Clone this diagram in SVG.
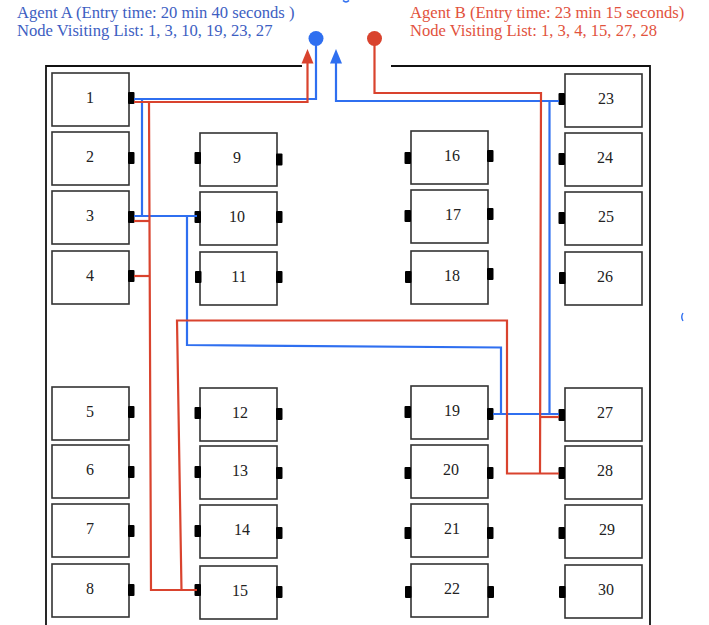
<svg xmlns="http://www.w3.org/2000/svg" width="709" height="625" viewBox="0 0 709 625">
  <style>
    .hdr { font-family: "Liberation Serif", "Times New Roman", serif; font-size: 16.6px; }
    .a { fill: #3d5ec2; }
    .b { fill: #e2523d; }
    .box { fill: #ffffff; stroke: #333333; stroke-width: 1.6; }
    .lbl { font-family: "Liberation Serif", "Times New Roman", serif; font-size: 16px; fill: #222222; text-anchor: middle; }
    .port { fill: #000000; }
    .wall { fill: none; stroke: #111111; stroke-width: 1.8; }
    .blue { fill: none; stroke: #2f6ff0; stroke-width: 2.2; }
    .red { fill: none; stroke: #d9432e; stroke-width: 2.2; }
  </style>
  <defs>
    <rect id="port" class="port" x="0" y="-6" width="6.5" height="12" rx="1"/>
  </defs>

  <rect width="709" height="625" fill="#ffffff"/>

  <!-- legend -->
  <text class="hdr a" x="17" y="18">Agent A (Entry time: 20 min 40 seconds )</text>
  <text class="hdr a" x="17" y="36">Node Visiting List: 1, 3, 10, 19, 23, 27</text>
  <text class="hdr b" x="410" y="18">Agent B (Entry time: 23 min 15 seconds)</text>
  <text class="hdr b" x="410" y="36">Node Visiting List: 1, 3, 4, 15, 27, 28</text>

  <!-- small stray marks -->
  <path d="M343 0.5 Q346 3.5 349 0.5" fill="none" stroke="#2f6ff0" stroke-width="1.6"/>
  <path d="M683 313 Q680.5 317 683 321" fill="none" stroke="#2f6ff0" stroke-width="1.4"/>

  <!-- enclosure walls with entrance gap -->
  <path class="wall" d="M302 66 H46 V625"/>
  <path class="wall" d="M391 66 H650 V625"/>

  <!-- nodes -->
  <g id="node-1"><rect class="box" x="52" y="73" width="77" height="53"/><text class="lbl" x="90" y="103">1</text><use href="#port" x="128" y="98"/></g>
  <g id="node-2"><rect class="box" x="52" y="132" width="77" height="53"/><text class="lbl" x="90" y="162">2</text><use href="#port" x="128" y="158"/></g>
  <g id="node-3"><rect class="box" x="52" y="191" width="77" height="53"/><text class="lbl" x="90" y="221">3</text><use href="#port" x="128" y="217"/></g>
  <g id="node-4"><rect class="box" x="52" y="251" width="77" height="53"/><text class="lbl" x="90" y="281">4</text><use href="#port" x="128" y="276"/></g>
  <g id="node-5"><rect class="box" x="52" y="387" width="77" height="53"/><text class="lbl" x="90" y="417">5</text><use href="#port" x="128" y="412"/></g>
  <g id="node-6"><rect class="box" x="52" y="445" width="77" height="53"/><text class="lbl" x="90" y="475">6</text><use href="#port" x="128" y="472"/></g>
  <g id="node-7"><rect class="box" x="52" y="504" width="77" height="53"/><text class="lbl" x="90" y="534">7</text><use href="#port" x="128" y="531"/></g>
  <g id="node-8"><rect class="box" x="52" y="564" width="77" height="53"/><text class="lbl" x="90" y="594">8</text><use href="#port" x="128" y="590"/></g>

  <g id="node-9"><rect class="box" x="200" y="133" width="77" height="53"/><text class="lbl" x="237" y="163">9</text><use href="#port" x="194.5" y="158"/><use href="#port" x="276" y="159.5"/></g>
  <g id="node-10"><rect class="box" x="200" y="192" width="77" height="53"/><text class="lbl" x="237" y="222">10</text><use href="#port" x="194.5" y="217"/><use href="#port" x="276" y="217"/></g>
  <g id="node-11"><rect class="box" x="200" y="252" width="77" height="53"/><text class="lbl" x="239" y="282">11</text><use href="#port" x="195" y="277"/><use href="#port" x="276" y="277"/></g>
  <g id="node-12"><rect class="box" x="200" y="388" width="77" height="53"/><text class="lbl" x="240" y="418">12</text><use href="#port" x="194.5" y="413"/><use href="#port" x="276" y="414"/></g>
  <g id="node-13"><rect class="box" x="200" y="446" width="77" height="53"/><text class="lbl" x="240" y="476">13</text><use href="#port" x="194.5" y="472"/><use href="#port" x="276" y="473"/></g>
  <g id="node-14"><rect class="box" x="200" y="505" width="77" height="53"/><text class="lbl" x="242" y="535">14</text><use href="#port" x="194.5" y="531"/><use href="#port" x="276" y="533"/></g>
  <g id="node-15"><rect class="box" x="200" y="566" width="77" height="53"/><text class="lbl" x="240" y="596">15</text><use href="#port" x="194.5" y="590"/><use href="#port" x="276" y="592"/></g>

  <g id="node-16"><rect class="box" x="411" y="131" width="77" height="53"/><text class="lbl" x="452" y="161">16</text><use href="#port" x="404.5" y="158"/><use href="#port" x="487" y="156"/></g>
  <g id="node-17"><rect class="box" x="411" y="190" width="77" height="53"/><text class="lbl" x="453" y="220">17</text><use href="#port" x="404.5" y="216"/><use href="#port" x="487" y="214"/></g>
  <g id="node-18"><rect class="box" x="411" y="251" width="77" height="53"/><text class="lbl" x="452" y="281">18</text><use href="#port" x="405" y="277"/><use href="#port" x="487" y="274"/></g>
  <g id="node-19"><rect class="box" x="411" y="386" width="77" height="53"/><text class="lbl" x="452" y="416">19</text><use href="#port" x="404.5" y="412"/><use href="#port" x="487" y="414"/></g>
  <g id="node-20"><rect class="box" x="411" y="445" width="77" height="53"/><text class="lbl" x="451" y="475">20</text><use href="#port" x="404.5" y="473"/><use href="#port" x="487" y="473"/></g>
  <g id="node-21"><rect class="box" x="411" y="504" width="77" height="53"/><text class="lbl" x="452" y="534">21</text><use href="#port" x="404.5" y="533"/><use href="#port" x="487" y="533"/></g>
  <g id="node-22"><rect class="box" x="411" y="564" width="77" height="53"/><text class="lbl" x="452" y="594">22</text><use href="#port" x="405" y="592"/><use href="#port" x="487.5" y="592"/></g>

  <g id="node-23"><rect class="box" x="565" y="74" width="77" height="53"/><text class="lbl" x="606" y="104">23</text><use href="#port" x="558.5" y="99"/></g>
  <g id="node-24"><rect class="box" x="565" y="133" width="77" height="53"/><text class="lbl" x="605" y="163">24</text><use href="#port" x="558.5" y="159"/></g>
  <g id="node-25"><rect class="box" x="565" y="192" width="77" height="53"/><text class="lbl" x="606" y="222">25</text><use href="#port" x="558.5" y="218"/></g>
  <g id="node-26"><rect class="box" x="565" y="252" width="77" height="53"/><text class="lbl" x="605" y="282">26</text><use href="#port" x="559" y="278"/></g>
  <g id="node-27"><rect class="box" x="565" y="388" width="77" height="53"/><text class="lbl" x="605" y="418">27</text><use href="#port" x="558.5" y="415"/></g>
  <g id="node-28"><rect class="box" x="565" y="446" width="77" height="53"/><text class="lbl" x="605" y="476">28</text><use href="#port" x="558.5" y="473"/></g>
  <g id="node-29"><rect class="box" x="565" y="505" width="77" height="53"/><text class="lbl" x="607" y="535">29</text><use href="#port" x="558.5" y="533"/></g>
  <g id="node-30"><rect class="box" x="565" y="565" width="77" height="53"/><text class="lbl" x="606" y="595">30</text><use href="#port" x="559" y="592"/></g>

  <!-- routes -->
  <g id="connectors">
    <!-- agent A (blue) -->
    <circle cx="316" cy="38.5" r="7.5" fill="#2f6ff0"/>
    <path class="blue" d="M316 40 V99 H134"/>
    <path class="blue" d="M142 99 V216"/>
    <path class="blue" d="M134 216 H197"/>
    <path class="blue" d="M187 216 V345 L501 347.5 V414"/>
    <path class="blue" d="M493 414 H559"/>
    <path class="blue" d="M549.5 101 V414"/>
    <path class="blue" d="M559 101 H336 V62"/>
    <polygon points="336,49 330,63.5 342,63.5" fill="#2f6ff0"/>

    <!-- agent B (red) -->
    <circle cx="374.5" cy="38.5" r="7.5" fill="#d9432e"/>
    <path class="red" d="M374.5 40 V93 H541 L540 473.5"/>
    <path class="red" d="M540.5 417 H559"/>
    <path class="red" d="M559 473.5 H507 V320.5 H177 L181.5 590"/>
    <path class="red" d="M197 590 H151 L149 102"/>
    <path class="red" d="M134 221 H149"/>
    <path class="red" d="M134 276 H149"/>
    <path class="red" d="M134 102 H307.5 V62"/>
    <polygon points="307.5,49 301.5,63.5 313.5,63.5" fill="#d9432e"/>
  </g>
</svg>
